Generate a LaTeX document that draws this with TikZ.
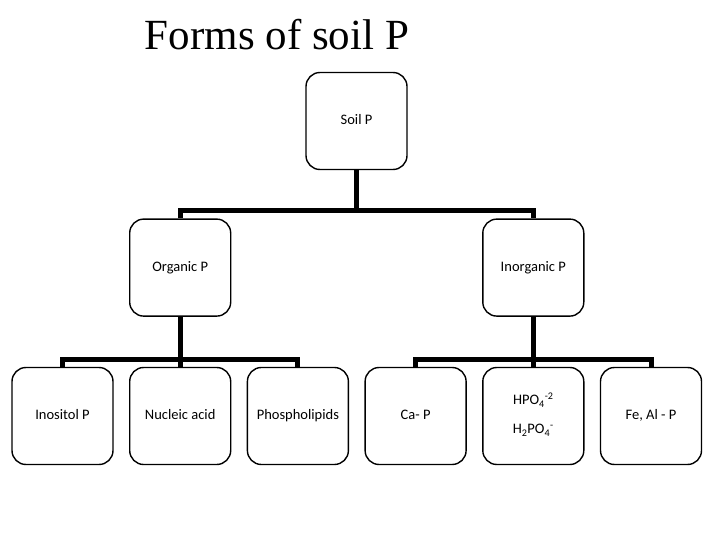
\documentclass[tikz,border=0pt]{standalone}
\usepackage{fontspec}
\setmainfont{Carlito}
\newfontfamily\titlefont{Liberation Serif}
\usetikzlibrary{positioning}

\begin{document}
\begin{tikzpicture}[x=1pt,y=1pt,node distance=15.3pt,
    box/.style={rectangle,draw,line width=1.4pt,rounded corners=14pt,
      align=center,font=\fontsize{14.5}{17}\selectfont,
      execute at begin node=\strut,
      minimum width=101pt,minimum height=97pt,inner sep=2pt},
    bus/.style={line width=5pt,line join=miter}]
\useasboundingbox (0,0) rectangle (720,-540);
\node[font=\titlefont\fontsize{43}{50}\selectfont,anchor=base] (title) at (277,-50) {Forms of soil P};
% top level
\node[box] (soil) at (356.5,-121) {Soil P};
% bottom row
\node[box] (ino) at (62.5,-416) {Inositol P};
\node[box,right=of ino] (nuc) {Nucleic acid};
\node[box,right=of nuc] (phl) {Phospholipids};
\node[box,right=of phl] (cap) {Ca- P};
\node[box,right=of cap] (hpo) {HPO\textsubscript{4}\textsuperscript{-2}\\[12pt]H\textsubscript{2}PO\textsubscript{4}\textsuperscript{-}};
\node[box,right=of hpo] (feal) {Fe, Al - P};
% middle level
\node[box,above=50pt of nuc] (org) {Organic P};
\node[box,above=50pt of hpo] (inorg) {Inorganic P};
% connectors
\draw[bus] (org.north) -- ++(0,8) coordinate (b1) -| (inorg.north);
\draw[bus] (soil.south) -- (soil.south |- b1);
\draw[bus] (ino.north) -- ++(0,7) coordinate (b2) -| (phl.north);
\draw[bus] (org.south) -- (org.south |- b2);
\draw[bus] (nuc.north) -- (nuc.north |- b2);
\draw[bus] (cap.north) -- ++(0,7) coordinate (b3) -| (feal.north);
\draw[bus] (inorg.south) -- (inorg.south |- b3);
\draw[bus] (hpo.north) -- (hpo.north |- b3);
\end{tikzpicture}
\end{document}
